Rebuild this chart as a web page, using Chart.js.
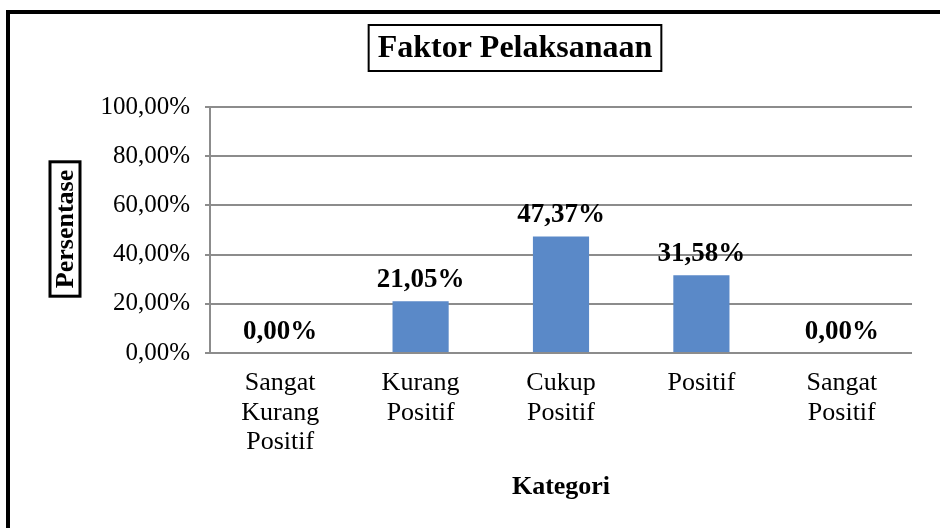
<!DOCTYPE html>
<html>
<head>
<meta charset="utf-8">
<script src="https://cdn.jsdelivr.net/npm/chart.js@4/dist/chart.umd.min.js"></script>
<style>
  body { margin: 0; background: #fff; }
  #wrap { width: 940px; height: 528px; }
</style>
</head>
<body>
<div id="wrap"><canvas id="chart" width="940" height="528"></canvas></div>
<script>
// data
const categories = [
  ["Sangat", "Kurang", "Positif"],
  ["Kurang", "Positif"],
  ["Cukup", "Positif"],
  ["Positif"],
  ["Sangat", "Positif"]
];
const percentages = [0, 21.05, 47.37, 31.58, 0];
const yTicks = [0, 20, 40, 60, 80, 100];

const chartTitle = "Faktor Pelaksanaan";
const yTitle = "Persentase";
const xTitle = "Kategori";

const serif = "'Liberation Serif', 'Times New Roman', serif";
const gridGrey = "#8c8c8c";

function fmt(v) {
  return v.toFixed(2).replace(".", ",") + "%";
}

// labels, boxed titles and the cropped outer frame
const decorations = {
  id: "decorations",
  afterDraw(chart) {
    const ctx = chart.ctx;
    const area = chart.chartArea;
    ctx.save();

    // outer frame (only top and left visible)
    ctx.fillStyle = "#000";
    ctx.fillRect(6, 10, 934, 4);
    ctx.fillRect(6, 10, 4, 518);

    // value labels above the bars
    ctx.font = "bold 27px " + serif;
    ctx.textAlign = "center";
    ctx.textBaseline = "alphabetic";
    const meta = chart.getDatasetMeta(0);
    meta.data.forEach((bar, i) => {
      ctx.fillText(fmt(percentages[i]), bar.x, bar.y - 14);
    });

    // chart title in a box
    ctx.font = "bold 32px " + serif;
    ctx.textBaseline = "middle";
    const tw = ctx.measureText(chartTitle).width;
    const tcx = 515, tcy = 48;
    ctx.lineWidth = 2;
    ctx.strokeStyle = "#000";
    ctx.strokeRect(tcx - tw / 2 - 9, 25, tw + 18, 46);
    ctx.fillText(chartTitle, tcx, tcy + 1);

    // y axis title, rotated, in a box
    ctx.font = "bold 26px " + serif;
    const yw = ctx.measureText(yTitle).width;
    ctx.save();
    ctx.translate(65, 229);
    ctx.rotate(-Math.PI / 2);
    ctx.lineWidth = 3;
    ctx.strokeRect(-yw / 2 - 8, -15, yw + 16, 30);
    ctx.fillText(yTitle, 0, 1);
    ctx.restore();

    // x axis title
    ctx.fillText(xTitle, (area.left + area.right) / 2, 487);

    ctx.restore();
  }
};

new Chart(document.getElementById("chart"), {
  type: "bar",
  data: {
    labels: categories,
    datasets: [{
      data: percentages,
      backgroundColor: "#5A89C8",
      barPercentage: 0.4,
      categoryPercentage: 1
    }]
  },
  options: {
    responsive: false,
    animation: false,
    layout: { padding: { left: 0, top: 107, right: 28, bottom: 0 } },
    plugins: {
      legend: { display: false },
      title: { display: false },
      tooltip: { enabled: false }
    },
    scales: {
      x: {
        grid: { display: false, drawTicks: false },
        border: { display: false },
        ticks: {
          color: "#000",
          padding: 16,
          maxRotation: 0,
          autoSkip: false,
          font: { family: serif, size: 26, lineHeight: 1.12 }
        },
        afterFit(scale) { scale.height = 175; }
      },
      y: {
        min: 0,
        max: 100,
        afterBuildTicks(scale) {
          scale.ticks = yTicks.map(v => ({ value: v }));
        },
        grid: { color: gridGrey, lineWidth: 2, tickLength: 5, drawTicks: true },
        border: { color: gridGrey, width: 2 },
        ticks: {
          color: "#000",
          padding: 15,
          font: { family: serif, size: 25 },
          callback: v => fmt(v)
        },
        afterFit(scale) { scale.width = 210; }
      }
    }
  },
  plugins: [decorations]
});
</script>
</body>
</html>
